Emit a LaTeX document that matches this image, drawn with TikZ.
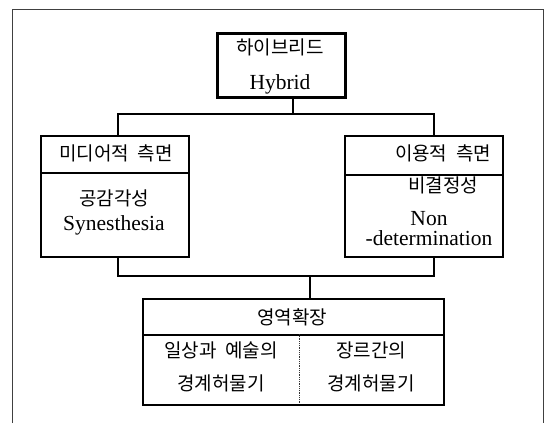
\documentclass[tikz,border=0pt]{standalone}
\usepackage{fontspec}
\setmainfont{Liberation Serif}
\newfontfamily\kr{Noto Sans CJK KR}
\newcommand{\kgap}{\hspace{0.45em}}
\begin{document}
\begin{tikzpicture}[x=1pt,y=-1pt,
  boxk/.style={draw=black,line width=1.9pt,inner sep=0pt,anchor=north west},
  topk/.style={draw=black,line width=2.8pt,inner sep=0pt,anchor=north west},
  conn/.style={draw=black,line width=1.9pt},
  krt/.style={font=\kr\fontsize{19}{22}\selectfont,inner sep=0pt,anchor=center},
  ent/.style={font=\fontsize{21.5}{25}\selectfont,inner sep=0pt,anchor=base}]
\useasboundingbox (0,0) rectangle (546,423);
% frame
\draw[black!75,line width=1pt] (12.5,423) -- (12.5,9) -- (543,9) -- (543,423);
% top box
\node[topk,minimum width=128pt,minimum height=64pt] (hyb) at (216,32) {};
\node[krt] (hybk) at (280,47) {하이브리드};
\node[ent] (hybe) at (280,89) {Hybrid};
% left box
\node[boxk,minimum width=148pt,minimum height=37pt] (lh) at (40,135) {};
\node[boxk,minimum width=148pt,minimum height=84pt] (lb) at (40,172) {};
\node[krt] (lht) at (116,153.5) {미디어적\kgap 측면};
\node[krt] (lbk) at (114,198) {공감각성};
\node[ent] (lbe) at (114,230) {Synesthesia};
% right box
\node[boxk,minimum width=158pt,minimum height=39pt] (rh) at (344,135) {};
\node[boxk,minimum width=158pt,minimum height=82pt] (rb) at (344,174) {};
\node[krt] (rht) at (443,153.5) {이용적\kgap 측면};
\node[krt] (rbk) at (443,185) {비결정성};
\node[ent] (rbe1) at (429,225.5) {Non};
\node[ent] (rbe2) at (429,245.5) {-determination};
% bottom box
\node[boxk,minimum width=301pt,minimum height=36pt] (bh) at (142,298) {};
\node[boxk,minimum width=301pt,minimum height=70pt] (bb) at (142,334) {};
\node[krt] (bht) at (292,317) {영역확장};
\node[krt] (bl1) at (221,350) {일상과\kgap 예술의};
\node[krt] (bl2) at (221,383) {경계허물기};
\node[krt] (br1) at (371,350) {장르간의};
\node[krt] (br2) at (371,383) {경계허물기};
\coordinate (dv1) at (299,334);
\coordinate (dv2) at (299,404);
\draw[black!80,line width=0.8pt,densely dotted] (dv1) -- (dv2);
% connectors
\coordinate (j0) at (293,96);
\coordinate (a1) at (118,114);
\coordinate (a2) at (434,114);
\coordinate (b1) at (118,276);
\coordinate (b2) at (434,276);
\coordinate (b3) at (310,276);
\draw[conn] (j0) -- (j0 |- a1);
\draw[conn] (a1 |- lh.north) -- (a1) -- (a2) -- (a2 |- rh.north);
\draw[conn] (b1 |- lb.south) -- (b1) -- (b2) -- (b2 |- rb.south);
\draw[conn] (b3) -- (b3 |- bh.north);
\end{tikzpicture}
\end{document}
